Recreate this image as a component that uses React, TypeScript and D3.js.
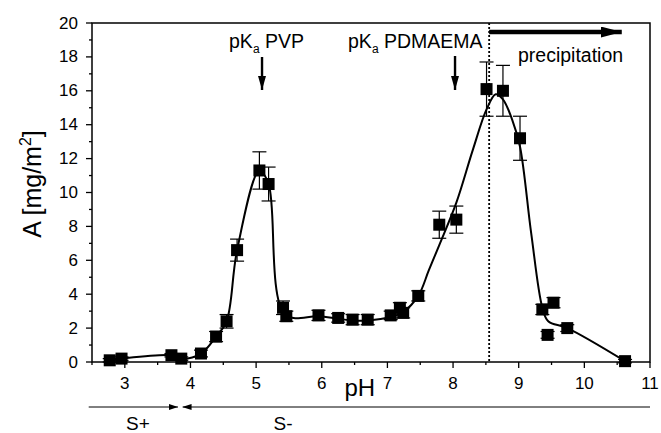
import * as d3 from "d3";

// measured points
const PH = [2.77, 2.95, 3.71, 3.86, 4.16, 4.39, 4.55, 4.71, 5.05, 5.19, 5.41, 5.46, 5.95, 6.25, 6.47, 6.7, 7.05, 7.19, 7.24, 7.47, 7.79, 8.05, 8.51, 8.76, 9.02, 9.36, 9.44, 9.53, 9.74, 10.62];
const A = [0.1, 0.2, 0.4, 0.2, 0.5, 1.5, 2.4, 6.6, 11.3, 10.5, 3.2, 2.7, 2.75, 2.6, 2.5, 2.5, 2.75, 3.2, 2.9, 3.9, 8.1, 8.4, 16.1, 16.0, 13.2, 3.1, 1.6, 3.5, 2.0, 0.05];
const ERR = [0.1, 0.1, 0.1, 0.1, 0.2, 0.3, 0.4, 0.65, 1.1, 1.0, 0.4, 0.3, 0.3, 0.25, 0.3, 0.3, 0.25, 0.3, 0.3, 0.3, 0.8, 0.8, 1.6, 1.5, 1.3, 0.3, 0.2, 0.3, 0.2, 0.1];

// guide curve drawn through the data
const CURVE_PH = [2.77, 2.95, 3.71, 3.86, 4.16, 4.39, 4.55, 4.71, 5.05, 5.19, 5.44, 5.95, 6.25, 6.47, 6.7, 7.05, 7.24, 7.47, 7.63, 7.79, 8.05, 8.3, 8.51, 8.65, 8.76, 8.9, 9.02, 9.19, 9.36, 9.45, 9.74, 10.62];
const CURVE_A = [0.1, 0.2, 0.4, 0.2, 0.5, 1.5, 2.4, 6.6, 11.3, 10.5, 2.8, 2.7, 2.55, 2.45, 2.45, 2.65, 2.95, 3.9, 5.4, 6.9, 9.4, 12.5, 14.9, 15.8, 15.5, 14.3, 12.7, 7.6, 3.2, 2.4, 2.0, 0.05];

const X_TICKS = [3, 4, 5, 6, 7, 8, 9, 10, 11];
const Y_TICKS = [0, 2, 4, 6, 8, 10, 12, 14, 16, 18, 20];

// annotation positions (pH units)
const PKA_PVP = 5.09;
const PKA_PDMAEMA = 8.03;
const PRECIP_START = 8.55;
const PRECIP_END = 10.57;
const SPLUS_RANGE = [2.45, 3.81];
const SMINUS_RANGE = [3.88, 11.0];

const W = 661;
const H = 433;
const FONT = "'Liberation Sans', Arial, sans-serif";

export default function App() {
  const x = d3.scaleLinear().domain([2.5, 11]).range([92, 650]);
  const y = d3.scaleLinear().domain([0, 20]).range([362, 23]);

  const minorX = d3.range(2.5, 11.01, 0.5).filter((v) => !X_TICKS.includes(v));
  const minorY = d3.range(1, 20, 2);

  const curvePts: [number, number][] = CURVE_PH.map((p, i) => [p, CURVE_A[i]]);
  const line = d3
    .line<[number, number]>()
    .x((d) => x(d[0]))
    .y((d) => y(d[1]))
    .curve(d3.curveCatmullRom.alpha(0.5));

  const ms = 12;
  const cap = 7;

  return (
    <svg
      width={W}
      height={H}
      style={{ position: "absolute", left: 0, top: 0, background: "#fff" }}
      fontFamily={FONT}
    >
      <defs>
        <marker id="headDown" viewBox="0 0 10 10" refX="10" refY="5" markerWidth="14" markerHeight="8" orient="auto" markerUnits="userSpaceOnUse" preserveAspectRatio="none">
          <path d="M0,0 L10,5 L0,10 z" fill="#000" />
        </marker>
        <marker id="headBig" viewBox="0 0 10 10" refX="10" refY="5" markerWidth="21" markerHeight="11" orient="auto" markerUnits="userSpaceOnUse" preserveAspectRatio="none">
          <path d="M0,0 L10,5 L0,10 z" fill="#000" />
        </marker>
        <marker id="headSmall" viewBox="0 0 10 10" refX="10" refY="5" markerWidth="9" markerHeight="6" orient="auto" markerUnits="userSpaceOnUse" preserveAspectRatio="none">
          <path d="M0,0 L10,5 L0,10 z" fill="#000" />
        </marker>
      </defs>

      {/* frame */}
      <rect x={x(2.5)} y={y(20)} width={x(11) - x(2.5)} height={y(0) - y(20)} fill="none" stroke="#000" strokeWidth={1.5} />

      {/* x ticks */}
      {X_TICKS.map((t) => (
        <g key={t}>
          <line x1={x(t)} x2={x(t)} y1={y(0)} y2={y(0) + 6} stroke="#000" strokeWidth={1.3} />
          <text x={x(t)} y={389} fontSize={17} textAnchor="middle">{t}</text>
        </g>
      ))}
      {minorX.map((t) => (
        <line key={t} x1={x(t)} x2={x(t)} y1={y(0)} y2={y(0) + 3} stroke="#000" strokeWidth={1.3} />
      ))}

      {/* y ticks */}
      {Y_TICKS.map((t) => (
        <g key={t}>
          <line x1={x(2.5) - 6} x2={x(2.5)} y1={y(t)} y2={y(t)} stroke="#000" strokeWidth={1.3} />
          <text x={78} y={y(t)} fontSize={17} textAnchor="end" dominantBaseline="central">{t}</text>
        </g>
      ))}
      {minorY.map((t) => (
        <line key={t} x1={x(2.5) - 3} x2={x(2.5)} y1={y(t)} y2={y(t)} stroke="#000" strokeWidth={1.3} />
      ))}

      {/* axis titles */}
      <text x={x(6.58)} y={396} fontSize={24} textAnchor="middle">pH</text>
      <text transform={`translate(41,${184}) rotate(-90)`} fontSize={25} textAnchor="middle">
        A [mg/m<tspan dy={-10} fontSize={16}>2</tspan><tspan dy={10}>]</tspan>
      </text>

      {/* dotted precipitation boundary */}
      <line x1={x(PRECIP_START)} x2={x(PRECIP_START)} y1={y(20)} y2={y(0)} stroke="#000" strokeWidth={1.8} strokeDasharray="2,2" />

      {/* curve */}
      <path d={line(curvePts) ?? ""} fill="none" stroke="#000" strokeWidth={2} strokeLinejoin="round" />

      {/* error bars */}
      {PH.map((p, i) => {
        const cx = x(p);
        const top = y(A[i] + ERR[i]);
        const bot = y(A[i] - ERR[i]);
        return (
          <g key={i} stroke="#000" strokeWidth={1.2}>
            <line x1={cx} x2={cx} y1={top} y2={bot} />
            <line x1={cx - cap} x2={cx + cap} y1={top} y2={top} />
            <line x1={cx - cap} x2={cx + cap} y1={bot} y2={bot} />
          </g>
        );
      })}

      {/* markers */}
      {PH.map((p, i) => (
        <rect key={i} x={x(p) - ms / 2} y={y(A[i]) - ms / 2} width={ms} height={ms} fill="#000" />
      ))}

      {/* pKa annotations */}
      <text x={x(PKA_PVP) - 33} y={48} fontSize={19.5}>
        pK<tspan dy={5} fontSize={12}>a</tspan><tspan dy={-5}> PVP</tspan>
      </text>
      <line x1={x(PKA_PVP)} x2={x(PKA_PVP)} y1={57} y2={90} stroke="#000" strokeWidth={2.4} markerEnd="url(#headDown)" />

      <text x={x(PKA_PDMAEMA) - 107} y={48} fontSize={19.5}>
        pK<tspan dy={5} fontSize={12}>a</tspan><tspan dy={-5}> PDMAEMA</tspan>
      </text>
      <line x1={x(PKA_PDMAEMA)} x2={x(PKA_PDMAEMA)} y1={56} y2={90} stroke="#000" strokeWidth={2.4} markerEnd="url(#headDown)" />

      {/* precipitation arrow */}
      <line x1={x(PRECIP_START)} x2={x(PRECIP_END)} y1={32} y2={32} stroke="#000" strokeWidth={4.5} markerEnd="url(#headBig)" />
      <text x={518} y={62} fontSize={19.5}>precipitation</text>

      {/* S+ / S- ranges */}
      <line x1={x(SPLUS_RANGE[0])} x2={x(SPLUS_RANGE[1])} y1={407} y2={407} stroke="#000" strokeWidth={1} markerEnd="url(#headSmall)" />
      <line x1={x(SMINUS_RANGE[1])} x2={x(SMINUS_RANGE[0])} y1={407} y2={407} stroke="#000" strokeWidth={1} markerEnd="url(#headSmall)" />
      <text x={138} y={430} fontSize={19} textAnchor="middle">S+</text>
      <text x={283} y={430} fontSize={19} textAnchor="middle">S-</text>
    </svg>
  );
}
